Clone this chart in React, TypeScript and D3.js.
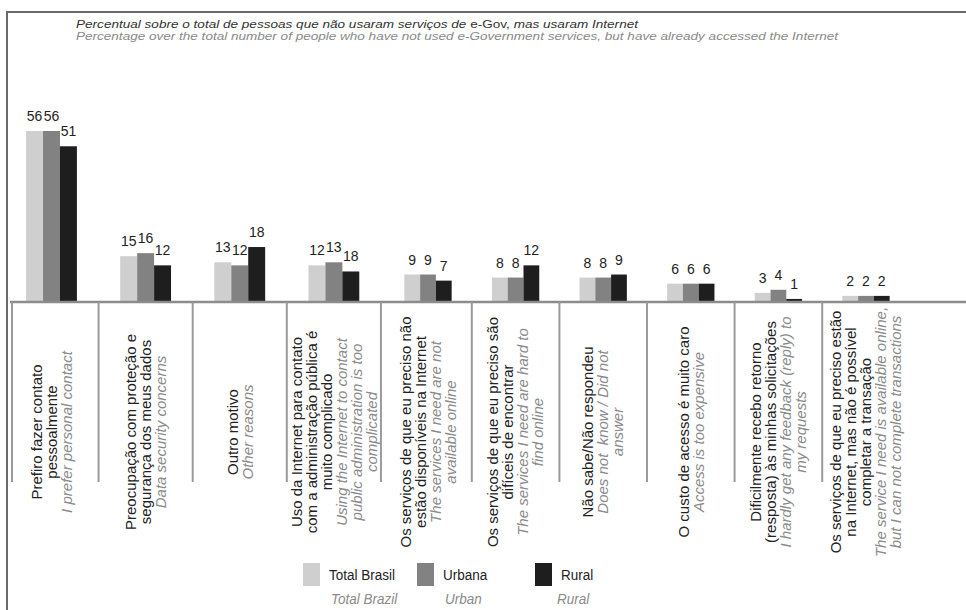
import React from "react";
import * as d3 from "d3";

const categoriesPT: string[][] = [
  ["Prefiro fazer contato", "pessoalmente"],
  ["Preocupação com proteção e", "segurança dos meus dados"],
  ["Outro motivo"],
  ["Uso da Internet para contato", "com a administração pública é", "muito complicado"],
  ["Os serviços de que eu preciso não", "estão disponíveis na Internet"],
  ["Os serviços de que eu preciso são", "difíceis de encontrar"],
  ["Não sabe/Não respondeu"],
  ["O custo de acesso é muito caro"],
  ["Dificilmente recebo retorno", "(resposta) às minhas solicitações"],
  ["Os serviços de que eu preciso estão", "na Internet, mas não é possível", "completar a transação"],
];

const categoriesEN: string[][] = [
  ["I prefer personal contact"],
  ["Data security concerns"],
  ["Other reasons"],
  ["Using the Internet to contact", "public administration is too", "complicated"],
  ["The services I need are not", "available online"],
  ["The services I need are hard to", "find online"],
  ["Does not  know / Did not", "answer"],
  ["Access is too expensive"],
  ["I hardly get any feedback (reply) to", "my requests"],
  ["The service I need is available online,", "but I can not complete transactions"],
];

const totalBrasil = [56, 15, 13, 12, 9, 8, 8, 6, 3, 2];
const urbana = [56, 16, 12, 13, 9, 8, 8, 6, 4, 2];
const rural = [51, 12, 18, 10, 7, 12, 9, 6, 1, 2];
// printed labels (the source prints 18 above a shorter rural bar in the 4th group)
const totalLabels = ["56", "15", "13", "12", "9", "8", "8", "6", "3", "2"];
const urbanaLabels = ["56", "16", "12", "13", "9", "8", "8", "6", "4", "2"];
const ruralLabels = ["51", "12", "18", "18", "7", "12", "9", "6", "1", "2"];

const seriesPT = ["Total Brasil", "Urbana", "Rural"];
const seriesEN = ["Total Brazil", "Urban", "Rural"];
const seriesColors = ["#cfcfcf", "#828282", "#1e1e1e"];

const titlePT1 = "Percentual sobre o total de pessoas que não usaram serviços de ";
const titlePT2 = "e-Gov,";
const titlePT3 = " mas usaram Internet";
const titleEN = "Percentage over the total number of people who have not used e-Government services, but have already accessed the Internet";

const W = 966;
const H = 610;
const baseY = 302;
const sans = "'Liberation Sans', Arial, Helvetica, sans-serif";

export default function App() {
  const n = totalBrasil.length;
  // group centre positions (the source layout is slightly tighter on the right half)
  const x = d3.scaleLinear().domain([0, 4, n - 1]).range([51.5, 428, 866]);
  const localStep = (i: number) =>
    i < n - 1 ? x(i + 1) - x(i) : x(i) - x(i - 1);
  const y = d3.scaleLinear().domain([0, 56]).range([baseY, 131]);

  const series = [
    { values: totalBrasil, labels: totalLabels },
    { values: urbana, labels: urbanaLabels },
    { values: rural, labels: ruralLabels },
  ];

  const dividers: number[] = [12];
  for (let i = 0; i < n - 1; i++) dividers.push((x(i) + x(i + 1)) / 2);

  const labelCenterY = 432;
  const lh = 15;
  const legendX = [303, 417, 535];

  return (
    <svg
      width={W}
      height={H}
      style={{ position: "absolute", left: 0, top: 0, background: "#fff" }}
      fontFamily={sans}
    >
      <rect x={0} y={0} width={W} height={H} fill="#fff" />
      {/* frame */}
      <line x1={7} y1={12} x2={W} y2={12} stroke="#6a6a6a" strokeWidth={2} />
      <line x1={7} y1={11} x2={7} y2={H} stroke="#6a6a6a" strokeWidth={2} />

      {/* title */}
      <text
        x={76}
        y={28}
        fontSize={11}
        fill="#333"
        fontStyle="italic"
        textLength={562}
        lengthAdjust="spacingAndGlyphs"
      >
        {titlePT1}
        <tspan fontStyle="normal">{titlePT2}</tspan>
        {titlePT3}
      </text>
      <text
        x={76}
        y={39.5}
        fontSize={11}
        fill="#8a8a8a"
        fontStyle="italic"
        textLength={762}
        lengthAdjust="spacingAndGlyphs"
      >
        {titleEN}
      </text>

      {/* bars */}
      {series.map((s, si) =>
        s.values.map((v, i) => {
          const bw = localStep(i) * 0.18;
          const left = x(i) - bw * 1.5 + si * bw;
          return (
            <g key={`b${si}-${i}`}>
              <rect
                x={left}
                y={y(v)}
                width={bw}
                height={baseY - y(v)}
                fill={seriesColors[si]}
              />
              <text
                x={left + bw / 2}
                y={y(v) - 10}
                textAnchor="middle"
                fontSize={14}
                fill="#222"
              >
                {s.labels[i]}
              </text>
            </g>
          );
        })
      )}

      {/* baseline */}
      <line x1={10} y1={baseY} x2={W} y2={baseY} stroke="#8c8c8c" strokeWidth={2.5} />
      {dividers.map((dx, i) => (
        <line key={`d${i}`} x1={dx} y1={baseY} x2={dx} y2={482} stroke="#9a9a9a" strokeWidth={2} />
      ))}

      {/* category labels */}
      {categoriesPT.map((pt, i) => {
        const lines = [
          ...pt.map((t) => ({ t, en: false })),
          ...categoriesEN[i].map((t) => ({ t, en: true })),
        ];
        const m = lines.length;
        return (
          <g key={`c${i}`} transform={`translate(${x(i)},${labelCenterY}) rotate(-90)`}>
            {lines.map((l, j) => (
              <text
                key={j}
                x={0}
                y={(j - (m - 1) / 2) * lh}
                dy="0.35em"
                textAnchor="middle"
                fontSize={15}
                fill={l.en ? "#8a8a8a" : "#222"}
                fontStyle={l.en ? "italic" : "normal"}
                style={{ whiteSpace: "pre" }}
              >
                {l.t}
              </text>
            ))}
          </g>
        );
      })}

      {/* legend */}
      {seriesPT.map((name, i) => {
        const lx = legendX[i];
        return (
          <g key={`l${i}`}>
            <rect x={lx} y={563} width={17} height={23} fill={seriesColors[i]} />
            <g transform={`translate(${lx + 26},580) scale(0.87,1)`}>
              <text x={0} y={0} fontSize={15.5} fill="#222">
                {name}
              </text>
            </g>
            <g transform={`translate(${i === 2 ? lx + 22 : lx + 28},604) scale(0.87,1)`}>
              <text x={0} y={0} fontSize={15.5} fontStyle="italic" fill="#8a8a8a">
                {seriesEN[i]}
              </text>
            </g>
          </g>
        );
      })}
    </svg>
  );
}
